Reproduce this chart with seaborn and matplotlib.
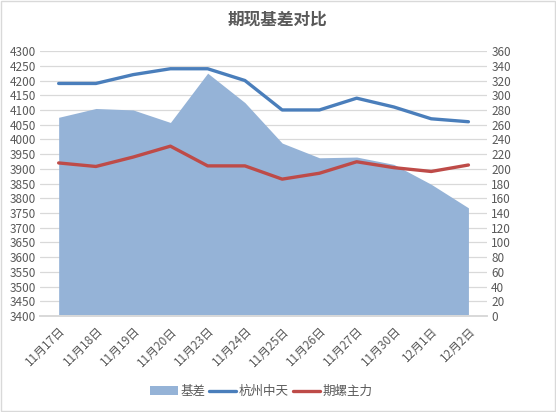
import matplotlib
matplotlib.use("Agg")
import matplotlib.pyplot as plt
import seaborn as sns
import pandas as pd
from matplotlib.patches import Patch, Rectangle
from matplotlib.lines import Line2D
from matplotlib.ticker import MultipleLocator, FixedLocator

dates = ["11月17日", "11月18日", "11月19日", "11月20日", "11月23日", "11月24日",
         "11月25日", "11月26日", "11月27日", "11月30日", "12月1日", "12月2日"]
spot = [4190, 4190, 4220, 4240, 4240, 4200, 4100, 4100, 4140, 4110, 4070, 4060]
futures = [3920, 3908, 3940, 3977, 3910, 3910, 3865, 3885, 3924, 3904, 3891, 3913]
basis = [270, 282, 280, 263, 330, 290, 235, 215, 216, 206, 179, 147]

sns.set_theme(style="white")
plt.rcParams['font.family'] = ['Noto Sans CJK SC', 'DejaVu Sans']
txt = '#595959'

df = pd.DataFrame({'idx': range(len(dates)), 'date': dates,
                   'spot': spot, 'futures': futures, 'basis': basis})

fig = plt.figure(figsize=(5.56, 4.12), dpi=100)
ax2 = fig.add_axes([0.072, 0.233, 0.804, 0.643])
ax = ax2.twinx()
ax.set_zorder(ax2.get_zorder() + 1)
ax.patch.set_visible(False)

# basis area on the right axis
ax2.fill_between(df['idx'], df['basis'], 0, color='#95B3D7', linewidth=0, zorder=2)
ax2.set_ylim(0, 360)
ax2.yaxis.set_major_locator(MultipleLocator(20))
ax2.yaxis.tick_right()
ax2.grid(axis='y', color='#D9D9D9', linewidth=0.9, zorder=0)
ax2.set_axisbelow(True)

sns.lineplot(data=df, x='idx', y='spot', ax=ax, color='#4A7EBB', linewidth=2.4)
sns.lineplot(data=df, x='idx', y='futures', ax=ax, color='#BE4B48', linewidth=2.4)
ax.set_ylim(3400, 4300)
ax.yaxis.set_major_locator(MultipleLocator(50))
ax.yaxis.tick_left()
ax.set_xlabel('')
ax.set_ylabel('')

for a in (ax, ax2):
    a.set_xlim(-0.5, len(dates) - 0.5)
    for s in ('left', 'right', 'top'):
        a.spines[s].set_visible(False)
    a.spines['bottom'].set_color('#D9D9D9')
    a.tick_params(axis='y', length=0, labelsize=8.5, colors=txt, pad=3)

ax2.xaxis.set_major_locator(FixedLocator(range(len(dates))))
ax2.set_xticklabels(dates, rotation=45, ha='right', rotation_mode='anchor',
                    fontsize=8.5, color=txt)
ax2.tick_params(axis='x', which='major', length=0, pad=6)
ax2.xaxis.set_minor_locator(FixedLocator([i - 0.5 for i in range(len(dates) + 1)]))
ax2.tick_params(axis='x', which='minor', length=5, color='#D9D9D9', direction='out')
ax.tick_params(axis='x', which='both', bottom=False, top=False,
               labelbottom=False, labeltop=False)

fig.text(0.5, 0.952, '期现基差对比', ha='center', va='center', fontsize=12,
         fontweight='bold', color=txt)

handles = [Patch(facecolor='#95B3D7', edgecolor='none'),
           Line2D([], [], color='#4A7EBB', linewidth=2.4),
           Line2D([], [], color='#BE4B48', linewidth=2.4)]
fig.legend(handles, ['基差', '杭州中天', '期螺主力'], loc='center', ncol=3,
           bbox_to_anchor=(0.47, 0.05), frameon=False, fontsize=9,
           handlelength=2.2, handletextpad=0.2, columnspacing=0.3, labelcolor=txt)

fig.add_artist(Rectangle((0.002, 0.002), 0.996, 0.996, transform=fig.transFigure,
                         fill=False, edgecolor='#D9D9D9', linewidth=1))

fig.savefig('out.png', dpi=100)
